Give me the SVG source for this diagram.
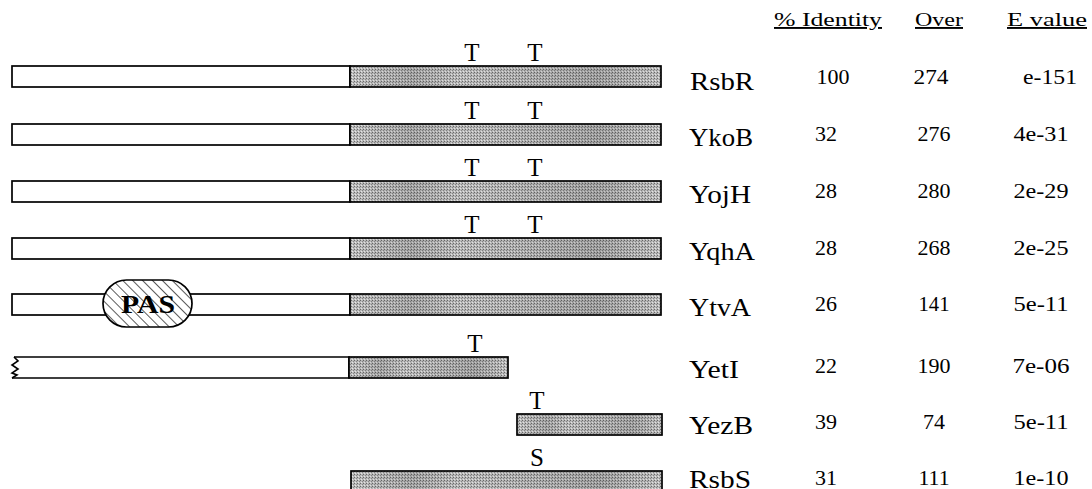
<svg xmlns="http://www.w3.org/2000/svg" width="1092" height="489" viewBox="0 0 1092 489">
  <defs>
    <!-- stippled grey used for the conserved C-terminal domain -->
    <pattern id="stipple" width="3" height="3" patternUnits="userSpaceOnUse">
      <rect width="3" height="3" fill="#c2c2c2"/>
      <rect x="0" y="0" width="1" height="1" fill="#6e6e6e"/>
      <rect x="2" y="1" width="1" height="1" fill="#8c8c8c"/>
      <rect x="1" y="2" width="1" height="1" fill="#eeeeee"/>
    </pattern>
    <linearGradient id="smudge" x1="0" y1="0" x2="1" y2="0">
      <stop offset="0" stop-color="#000" stop-opacity="0.02"/>
      <stop offset="0.2" stop-color="#000" stop-opacity="0.16"/>
      <stop offset="0.35" stop-color="#000" stop-opacity="0.04"/>
      <stop offset="0.55" stop-color="#000" stop-opacity="0.1"/>
      <stop offset="0.8" stop-color="#000" stop-opacity="0.18"/>
      <stop offset="1" stop-color="#000" stop-opacity="0.03"/>
    </linearGradient>
    <!-- diagonal hatching for the PAS domain -->
    <pattern id="hatch" width="7" height="7" patternUnits="userSpaceOnUse" patternTransform="rotate(-45)">
      <rect width="7" height="7" fill="#fff"/>
      <line x1="0" y1="0" x2="0" y2="7" stroke="#000" stroke-width="1.3"/>
    </pattern>
  </defs>
  <style>
    .box { fill: #fff; stroke: #000; stroke-width: 1.7; }
    .dom { fill: url(#stipple); stroke: #000; stroke-width: 1.7; }
    .sm { fill: url(#smudge); stroke: none; }
    text { font-family: "Liberation Serif", "Times New Roman", serif; fill: #000; }
    .mark { font-size: 25px; text-anchor: middle; }
    .name { font-size: 25px; }
    .num { font-size: 20px; text-anchor: middle; }
    .head { font-size: 19px; text-anchor: middle; text-decoration: underline; }
    .pas { font-size: 26px; font-weight: bold; text-anchor: middle; }
  </style>

  <g id="header">
    <text class="head" x="828" y="26" textLength="108" lengthAdjust="spacingAndGlyphs">% Identity</text>
    <text class="head" x="939" y="26" textLength="48" lengthAdjust="spacingAndGlyphs">Over</text>
    <text class="head" x="1047" y="26" textLength="80" lengthAdjust="spacingAndGlyphs">E value</text>
  </g>

  <g id="RsbR">
    <rect class="box" x="12" y="66" width="338" height="21"/>
    <rect class="dom" x="350" y="66" width="311" height="21"/>
    <rect class="sm" x="351" y="67" width="309" height="19"/>
    <text class="mark" x="472" y="61">T</text>
    <text class="mark" x="535" y="61">T</text>
    <text class="name" x="690" y="90" textLength="64" lengthAdjust="spacingAndGlyphs">RsbR</text>
    <text class="num" x="833" y="84" textLength="33" lengthAdjust="spacingAndGlyphs">100</text>
    <text class="num" x="931" y="84" textLength="35" lengthAdjust="spacingAndGlyphs">274</text>
    <text class="num" x="1050" y="84" textLength="54" lengthAdjust="spacingAndGlyphs">e-151</text>
  </g>

  <g id="YkoB">
    <rect class="box" x="12" y="124" width="338" height="21"/>
    <rect class="dom" x="350" y="124" width="311" height="21"/>
    <rect class="sm" x="351" y="125" width="309" height="19"/>
    <text class="mark" x="472" y="119">T</text>
    <text class="mark" x="535" y="119">T</text>
    <text class="name" x="689" y="146" textLength="64" lengthAdjust="spacingAndGlyphs">YkoB</text>
    <text class="num" x="826" y="141" textLength="22" lengthAdjust="spacingAndGlyphs">32</text>
    <text class="num" x="934" y="141" textLength="33" lengthAdjust="spacingAndGlyphs">276</text>
    <text class="num" x="1041" y="141" textLength="55" lengthAdjust="spacingAndGlyphs">4e-31</text>
  </g>

  <g id="YojH">
    <rect class="box" x="12" y="181" width="338" height="21"/>
    <rect class="dom" x="350" y="181" width="311" height="21"/>
    <rect class="sm" x="351" y="182" width="309" height="19"/>
    <text class="mark" x="472" y="176">T</text>
    <text class="mark" x="535" y="176">T</text>
    <text class="name" x="689" y="203" textLength="62" lengthAdjust="spacingAndGlyphs">YojH</text>
    <text class="num" x="826" y="198" textLength="22" lengthAdjust="spacingAndGlyphs">28</text>
    <text class="num" x="934" y="198" textLength="33" lengthAdjust="spacingAndGlyphs">280</text>
    <text class="num" x="1041" y="198" textLength="55" lengthAdjust="spacingAndGlyphs">2e-29</text>
  </g>

  <g id="YqhA">
    <rect class="box" x="12" y="238" width="338" height="21"/>
    <rect class="dom" x="350" y="238" width="311" height="21"/>
    <rect class="sm" x="351" y="239" width="309" height="19"/>
    <text class="mark" x="472" y="233">T</text>
    <text class="mark" x="535" y="233">T</text>
    <text class="name" x="689" y="260" textLength="66" lengthAdjust="spacingAndGlyphs">YqhA</text>
    <text class="num" x="826" y="255" textLength="22" lengthAdjust="spacingAndGlyphs">28</text>
    <text class="num" x="934" y="255" textLength="33" lengthAdjust="spacingAndGlyphs">268</text>
    <text class="num" x="1041" y="255" textLength="55" lengthAdjust="spacingAndGlyphs">2e-25</text>
  </g>

  <g id="YtvA">
    <rect class="box" x="12" y="294" width="338" height="21"/>
    <rect class="dom" x="350" y="294" width="311" height="21"/>
    <rect class="sm" x="351" y="295" width="309" height="19"/>
    <rect x="103" y="280" width="89" height="47" rx="23.5" fill="url(#hatch)" stroke="#000" stroke-width="1.7"/>
    <text class="pas" x="148" y="313" textLength="54" lengthAdjust="spacingAndGlyphs">PAS</text>
    <text class="name" x="689" y="316" textLength="62" lengthAdjust="spacingAndGlyphs">YtvA</text>
    <text class="num" x="826" y="311" textLength="22" lengthAdjust="spacingAndGlyphs">26</text>
    <text class="num" x="934" y="311" textLength="31" lengthAdjust="spacingAndGlyphs">141</text>
    <text class="num" x="1041" y="311" textLength="55" lengthAdjust="spacingAndGlyphs">5e-11</text>
  </g>

  <g id="YetI">
    <path d="M14,357 H349 V378 H12" fill="#fff" stroke="#000" stroke-width="1.7"/>
    <path d="M14,357 L18,361 L12,365 L18,369 L12,373 L17,375 L12,378" fill="none" stroke="#000" stroke-width="1.6"/>
    <rect class="dom" x="349" y="357" width="159" height="21"/>
    <rect class="sm" x="350" y="358" width="157" height="19"/>
    <text class="mark" x="475" y="352">T</text>
    <text class="name" x="689" y="378" textLength="50" lengthAdjust="spacingAndGlyphs">YetI</text>
    <text class="num" x="826" y="373" textLength="22" lengthAdjust="spacingAndGlyphs">22</text>
    <text class="num" x="934" y="373" textLength="33" lengthAdjust="spacingAndGlyphs">190</text>
    <text class="num" x="1041" y="373" textLength="57" lengthAdjust="spacingAndGlyphs">7e-06</text>
  </g>

  <g id="YezB">
    <rect class="dom" x="517" y="414" width="145" height="21"/>
    <rect class="sm" x="518" y="415" width="143" height="19"/>
    <text class="mark" x="537" y="409">T</text>
    <text class="name" x="689" y="434" textLength="64" lengthAdjust="spacingAndGlyphs">YezB</text>
    <text class="num" x="826" y="429" textLength="22" lengthAdjust="spacingAndGlyphs">39</text>
    <text class="num" x="934" y="429" textLength="22" lengthAdjust="spacingAndGlyphs">74</text>
    <text class="num" x="1041" y="429" textLength="55" lengthAdjust="spacingAndGlyphs">5e-11</text>
  </g>

  <g id="RsbS">
    <rect class="dom" x="351" y="471" width="311" height="30"/>
    <rect class="sm" x="352" y="472" width="309" height="28"/>
    <text class="mark" x="537" y="466">S</text>
    <text class="name" x="689" y="488" textLength="62" lengthAdjust="spacingAndGlyphs">RsbS</text>
    <text class="num" x="826" y="485" textLength="22" lengthAdjust="spacingAndGlyphs">31</text>
    <text class="num" x="934" y="485" textLength="31" lengthAdjust="spacingAndGlyphs">111</text>
    <text class="num" x="1041" y="485" textLength="55" lengthAdjust="spacingAndGlyphs">1e-10</text>
  </g>
</svg>
